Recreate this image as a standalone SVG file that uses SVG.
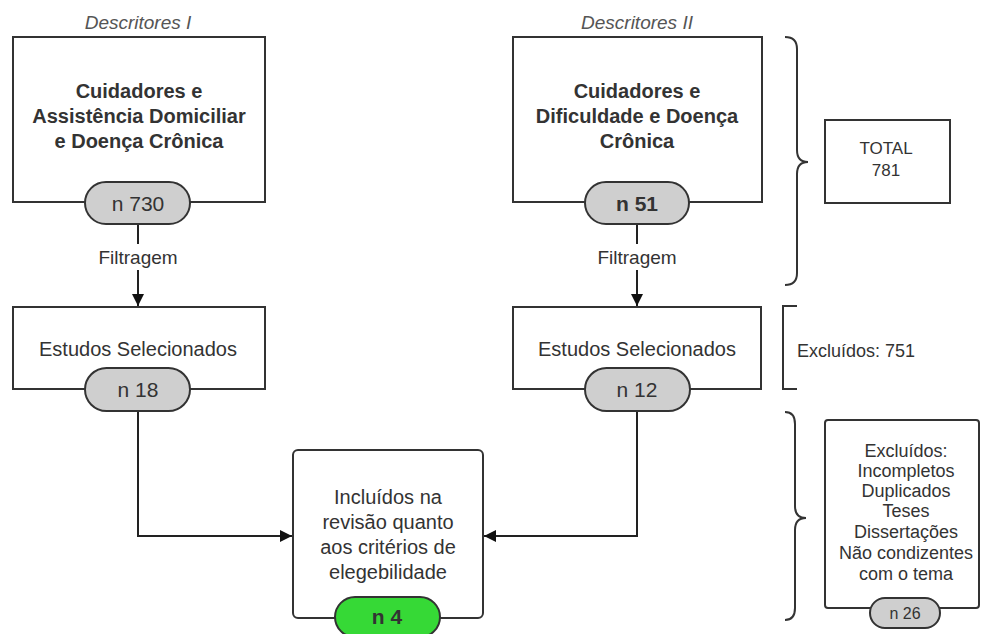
<svg xmlns="http://www.w3.org/2000/svg" width="981" height="634" viewBox="0 0 981 634">
<defs>
<style>
.box{fill:#fff;stroke:#333;stroke-width:2}
.pill{fill:#cfcfcf;stroke:#333;stroke-width:2}
.green{fill:#36d936;stroke:#333;stroke-width:2}
.t{font-family:"Liberation Sans",Arial,sans-serif;fill:#333;text-anchor:middle}
.b{font-weight:bold}
.ttl{font-family:"Liberation Sans",Arial,sans-serif;fill:#555;font-style:italic;font-size:19px;text-anchor:middle}
.edge{fill:none;stroke:#222;stroke-width:2}
.br{fill:none;stroke:#333;stroke-width:2}
</style>
<marker id="ah" viewBox="0 0 10 10" refX="10" refY="5" markerWidth="6" markerHeight="6" orient="auto">
<path d="M0,0 L10,5 L0,10 z" fill="#111"/>
</marker>
</defs>
<rect width="981" height="634" fill="#fff"/>

<g id="connectors">
<line class="edge" x1="138" y1="224" x2="138" y2="244"/>
<line class="edge" x1="138" y1="270" x2="138" y2="306" marker-end="url(#ah)"/>
<line class="edge" x1="637" y1="224" x2="637" y2="244"/>
<line class="edge" x1="637" y1="270" x2="637" y2="306" marker-end="url(#ah)"/>
<polyline class="edge" points="138,411 138,536 292,536" marker-end="url(#ah)"/>
<polyline class="edge" points="637,411 637,536 484,536" marker-end="url(#ah)"/>
<text class="t" x="138" y="264" font-size="19">Filtragem</text>
<text class="t" x="637" y="264" font-size="19">Filtragem</text>
</g>

<g id="desc1">
<text class="ttl" x="138" y="29">Descritores I</text>
<rect class="box" x="13" y="37" width="252" height="165"/>
<text class="t b" font-size="20"><tspan x="139" y="98">Cuidadores e</tspan><tspan x="139" y="123">Assistência Domiciliar</tspan><tspan x="139" y="148">e Doença Crônica</tspan></text>
</g>
<g id="n730">
<rect class="pill" x="85" y="182" width="105" height="42" rx="21"/>
<text class="t" x="138" y="211" font-size="21">n 730</text>
</g>

<g id="desc2">
<text class="ttl" x="637" y="29">Descritores II</text>
<rect class="box" x="513" y="37" width="249" height="165"/>
<text class="t b" font-size="20"><tspan x="637" y="98">Cuidadores e</tspan><tspan x="637" y="123">Dificuldade e Doença</tspan><tspan x="637" y="148">Crônica</tspan></text>
</g>
<g id="n51">
<rect class="pill" x="585" y="182" width="104" height="42" rx="21"/>
<text class="t b" x="637" y="211" font-size="21">n 51</text>
</g>

<g id="sel1">
<rect class="box" x="13" y="307" width="252" height="82"/>
<text class="t" x="138" y="356" font-size="20">Estudos Selecionados</text>
</g>
<g id="n18">
<rect class="pill" x="85" y="368" width="105" height="43" rx="21.5"/>
<text class="t" x="138" y="397" font-size="21">n 18</text>
</g>

<g id="sel2">
<rect class="box" x="513" y="307" width="248" height="82"/>
<text class="t" x="637" y="356" font-size="20">Estudos Selecionados</text>
</g>
<g id="n12">
<rect class="pill" x="585" y="368" width="105" height="43" rx="21.5"/>
<text class="t" x="637" y="397" font-size="21">n 12</text>
</g>

<g id="incl">
<rect class="box" x="293" y="450" width="190" height="168" rx="5"/>
<text class="t" font-size="20"><tspan x="388" y="504">Incluídos na</tspan><tspan x="388" y="529">revisão quanto</tspan><tspan x="388" y="554">aos critérios de</tspan><tspan x="388" y="579">elegebilidade</tspan></text>
</g>
<g id="n4">
<rect class="green" x="335" y="597" width="105" height="40" rx="20"/>
<text class="t b" x="387" y="624" font-size="21">n 4</text>
</g>

<g id="brace1">
<path class="br" d="M785,37 Q797,37 797,49 L797,150 Q797,162 808,162 Q797,162 797,174 L797,273 Q797,285 785,285"/>
</g>
<g id="total">
<rect class="box" x="825" y="120" width="125" height="83"/>
<text class="t" font-size="17"><tspan x="886" y="154">TOTAL</tspan><tspan x="886" y="176">781</tspan></text>
</g>

<g id="bracket">
<path class="br" d="M797,306 L783,306 L783,389 L797,389" stroke-width="2.5"/>
<text class="t" x="797" y="357" font-size="18" style="text-anchor:start">Excluídos: 751</text>
</g>

<g id="brace2">
<path class="br" d="M785,412 Q795,412 795,424 L795,506 Q795,518 806,518 Q795,518 795,530 L795,608 Q795,620 785,620"/>
</g>
<g id="excl">
<rect class="box" x="825" y="420" width="154" height="188" rx="3"/>
<text class="t" font-size="18"><tspan x="906" y="457">Excluídos:</tspan><tspan x="906" y="477">Incompletos</tspan><tspan x="906" y="497">Duplicados</tspan><tspan x="906" y="517">Teses</tspan><tspan x="906" y="538">Dissertações</tspan><tspan x="906" y="559">Não condizentes</tspan><tspan x="906" y="580">com o tema</tspan></text>
</g>
<g id="n26">
<rect class="pill" x="870" y="598" width="70" height="30" rx="15"/>
<text class="t" x="905" y="619" font-size="16">n 26</text>
</g>
</svg>
